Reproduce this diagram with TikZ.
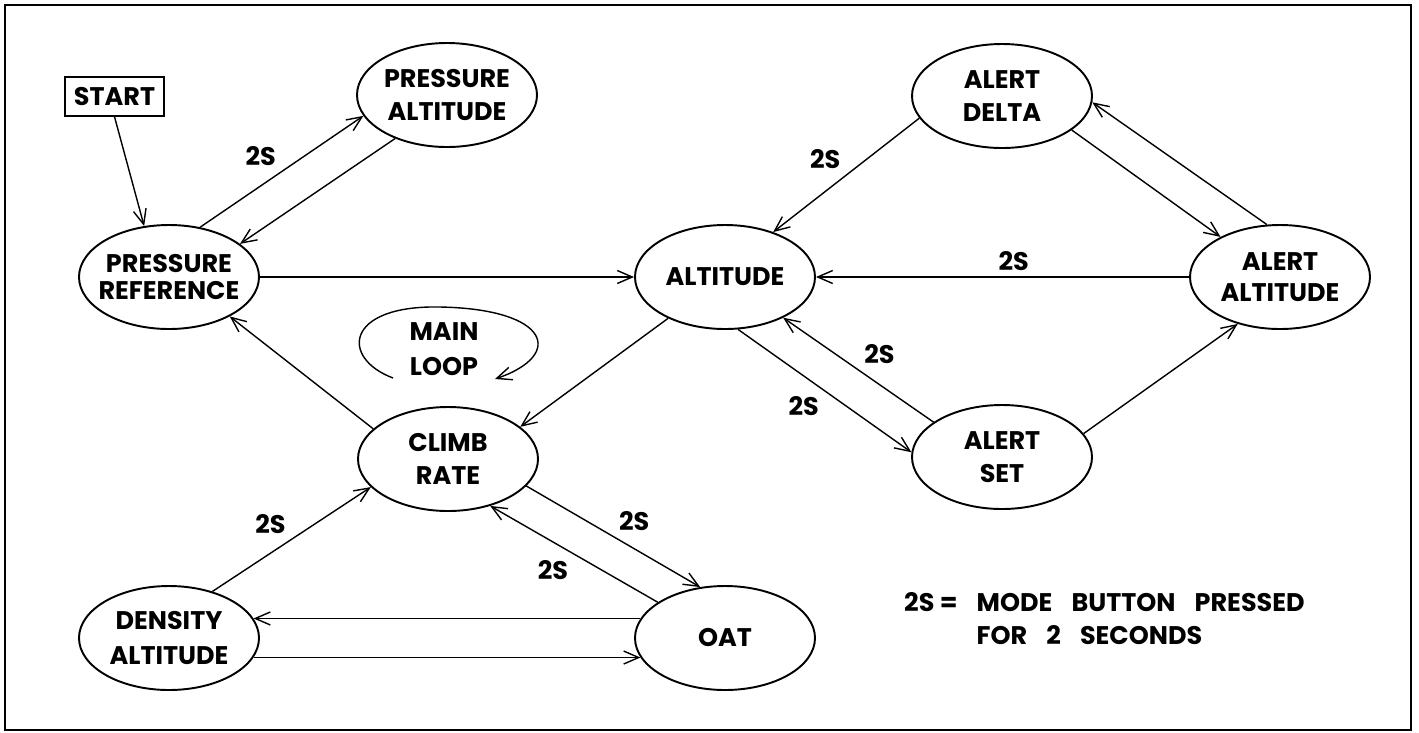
\documentclass[tikz,border=0pt]{standalone}
\usepackage{fontspec}
\setmainfont{Poppins}
\usepackage{tikz}
\usetikzlibrary{arrows.meta}
\usetikzlibrary{shapes.geometric}

\newcommand{\modefont}{\fontsize{14.5}{18.7}\selectfont\bfseries}
\newcommand{\gap}{\hspace{0.75em}}
\tikzset{
  mode/.style={ellipse,draw,line width=1.1pt,minimum width=3.6cm,minimum height=2.08cm,inner xsep=-4pt,inner ysep=0pt,align=center,font=\modefont},
  trans/.style={-{Straight Barb[length=3mm,width=2.6mm]},black,thick},
  lbl/.style={font=\modefont,inner sep=3pt},
}

\begin{document}
\begin{tikzpicture}[scale=.2,auto=left]
			\useasboundingbox (0,0) rectangle (141.9,-73.2);
			\draw [line width=1.6pt] (0.5,-0.5) rectangle (141.1,-73.0);
			% modes
			\node [draw,thick,minimum width=1.98cm,minimum height=0.78cm,inner sep=0pt,font=\modefont] (start) at (11.45,-9.65) {START};
			\node [mode] (pa) at (44.7,-9.5) {PRESSURE\\ALTITUDE};
			\node [mode,font=\fontsize{14.5}{14.9}\selectfont\bfseries] (pr) at (16.9,-27.7) {PRESSURE\\REFERENCE};
			\node [mode] (alt) at (72.5,-27.7) {ALTITUDE};
			\node [mode] (ad) at (100.2,-9.6) {ALERT\\DELTA};
			\node [mode,font=\fontsize{14.5}{17.6}\selectfont\bfseries] (aa) at (128.0,-27.7) {ALERT\\ALTITUDE};
			\node [mode] (as) at (100.2,-45.7) {ALERT\\SET};
			\node [mode] (cr) at (44.8,-45.9) {CLIMB\\RATE};
			\node [mode,font=\fontsize{14.5}{19.8}\selectfont\bfseries] (da) at (16.9,-63.8) {DENSITY\\ALTITUDE};
			\node [mode] (oat) at (72.5,-63.8) {OAT};
			\node [font=\fontsize{14.5}{19.8}\selectfont\bfseries,align=center] (mainloop) at (44.4,-34.9) {MAIN\\LOOP};
			\node [font=\fontsize{14.5}{18.7}\selectfont\bfseries,align=left,anchor=west] (legend) at (89.8,-61.9) {2S =\gap MODE\gap BUTTON\gap PRESSED\\\hphantom{2S =\gap}FOR\gap 2\gap SECONDS};
			\coordinate (loopin) at (39.3,-37.8);
			\coordinate (loopout) at (49.5,-37.9);
			% transitions
			\draw [trans] (start.south) -- (pr.116);
			\draw [trans] (pr.58) -- node[lbl] {2S} (pa.194);
			\draw [trans] (pa.220) -- (pr.25);
			\draw [trans] (pr) -- (alt);
			\draw [trans] (cr.158) -- (pr.-33);
			\draw [trans] (alt.216) -- (cr.24);
			\draw [trans] (ad.195) -- node[lbl,swap] {2S} (alt.43);
			\draw [trans] (ad.-26) -- (aa.146);
			\draw [trans] (aa.104) -- (ad.-4);
			\draw [trans] (aa) -- node[lbl,swap,pos=.47] {2S} (alt);
			\draw [trans] (alt.-76) -- node[lbl,swap] {2S} (as.177);
			\draw [trans] (as.153) -- node[lbl,swap] {2S} (alt.-35);
			\draw [trans] (as.16) -- (aa.228);
			\draw [trans] (da.47) -- node[lbl] {2S} (cr.200);
			\draw [trans] (cr.-19) -- node[lbl] {2S} (oat.116);
			\draw [trans] (oat.152) -- node[lbl] {2S} (cr.-48);
			\draw [trans] (oat.167) -- (da.13);
			\draw [trans] (da.-13) -- (oat.193);
			\draw [trans] (loopin) .. controls (34,-35.8) and (34.5,-30.5) .. (44,-30.7) .. controls (55,-30.9) and (56.5,-35.5) .. (loopout);
		\end{tikzpicture}
\end{document}
